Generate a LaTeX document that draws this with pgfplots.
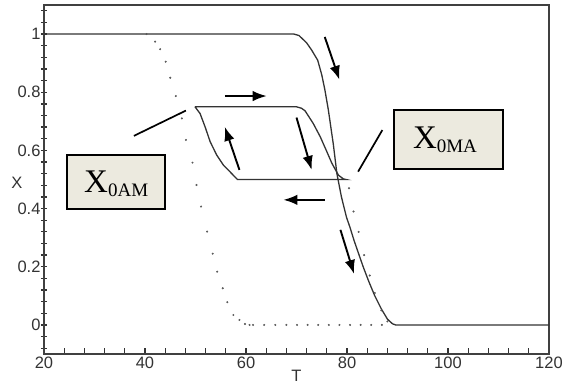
\documentclass[border=0pt]{standalone}
\usepackage{fontspec}
\setmainfont{Liberation Sans}
\newfontfamily\seriffont{Liberation Serif}
\usepackage{pgfplots}
\pgfplotsset{compat=1.18}
\usetikzlibrary{arrows.meta}
\definecolor{boxfill}{RGB}{236,234,223}
\begin{document}
\begin{tikzpicture}
\useasboundingbox (-44pt,-31pt) rectangle (525pt,354pt);
\begin{axis}[
  at={(0,0)}, anchor=south west,
  scale only axis, width=505pt, height=349pt,
  xmin=20, xmax=120, ymin=-0.1, ymax=1.1,
  xtick={20,40,60,80,100,120},
  ytick={0,0.2,0.4,0.6,0.8,1},
  minor xtick={24,28,32,36,44,48,52,56,64,68,72,76,84,88,92,96,104,108,112,116},
  minor ytick={-0.08,-0.04,0.04,0.08,0.12,0.16,0.24,0.28,0.32,0.36,0.44,0.48,0.52,0.56,0.64,0.68,0.72,0.76,0.84,0.88,0.92,0.96,1.04,1.08},
  tick pos=left,
  tick align=inside,
  major tick length=6pt, minor tick length=6pt,
  ytick style={xshift=-3pt, line width=1.3pt, black!80},
  xtick style={line width=1.2pt, black!80},
  axis line style={line width=1.7pt, black!75},
  /pgf/number format/assume math mode=true,
  tick label style={font=\fontsize{16.5}{18}\selectfont, text=black!80},
  xticklabel style={yshift=1pt},
  every axis y label/.style={at={(axis description cs:0,0.49)}, anchor=center, xshift=-27pt, font=\fontsize{16.5}{18}\selectfont, text=black!80},
  every axis x label/.style={at={(axis description cs:0.5,0)}, anchor=center, yshift=-21.5pt, font=\fontsize{16.5}{18}\selectfont, text=black!80},
  xlabel={T}, ylabel={X},
  clip=false,
]
% dotted X_0AM curve
\addplot[only marks, mark=*, mark size=0.8pt, black!65] coordinates {
(40.3,1.0)(42.0,0.974)(43.0,0.948)(44.1,0.905)(45.0,0.85)(46.1,0.787)(47.3,0.71)(48.1,0.636)
(49.4,0.558)(50.2,0.481)(51.1,0.407)(52.3,0.321)(53.4,0.245)(54.3,0.183)(55.4,0.126)
(56.3,0.078)(57.5,0.034)(58.7,0.017)(59.8,0.003)(60.7,0)(61.4,0)(63.6,0)(65.8,0)(68,0)(70.1,0)
(72.2,0)(74.3,0)(76.4,0)(78.5,0)(80.6,0)(82.7,0)(84.8,0)(86.9,0)
};
% dotted right curve
\addplot[only marks, mark=*, mark size=0.8pt, black!65] coordinates {
(80.4,0.47)(81.3,0.39)(82.3,0.32)(83.4,0.24)(84.5,0.17)(85.5,0.11)(86.8,0.05)(88.0,0.012)
};
% main solid curve X_0MA
\addplot[line width=1.3pt, black!80] coordinates {
(20,1)(69.5,1)(70.5,0.995)(72,0.97)(73,0.945)(74.2,0.91)(75,0.86)(75.6,0.81)(76.3,0.74)
(77.3,0.62)(78,0.52)(78.9,0.44)(79.9,0.37)(80.6,0.335)(81.4,0.29)(82.3,0.245)(83.2,0.2)
(84.3,0.15)(85.5,0.1)(86.8,0.055)(88,0.02)(89,0.004)(89.6,0)(120,0)
};
% inner loop
\addplot[line width=1.3pt, black!80] coordinates {
(49.9,0.75)(70,0.75)(71,0.745)(71.7,0.736)(73.3,0.693)(74.7,0.647)(76,0.596)(77,0.556)
(78.3,0.515)(79.3,0.502)(79.8,0.5)(58.3,0.5)(56.8,0.527)(55.5,0.55)(54.2,0.584)(52.9,0.63)
(51.9,0.681)(50.9,0.727)(49.9,0.75)
};
% arrows
\begin{scope}[line width=1.9pt, black, -{Latex[length=14pt,width=10.5pt]}]
\draw (axis cs:75.6,0.99) -- (axis cs:78.5,0.843);
\draw (axis cs:55.8,0.787) -- (axis cs:64.1,0.787);
\draw (axis cs:58.7,0.533) -- (axis cs:55.8,0.681);
\draw (axis cs:70,0.713) -- (axis cs:73,0.533);
\draw (axis cs:75.6,0.43) -- (axis cs:67.4,0.43);
\draw (axis cs:78.7,0.327) -- (axis cs:81.4,0.175);
\end{scope}
% pointer lines
\draw[line width=1.7pt, black] (axis cs:37.8,0.65) -- (axis cs:48.1,0.737);
\draw[line width=1.7pt, black] (axis cs:82.2,0.527) -- (axis cs:87.0,0.67);
% boxes
\draw[line width=1.8pt, fill=boxfill] (axis cs:24.5,0.584) rectangle (axis cs:44,0.398);
\node at (axis cs:34.3,0.484) {\seriffont\fontsize{33}{35}\selectfont X\raisebox{-4pt}{\fontsize{19}{21}\selectfont 0AM}};
\draw[line width=1.8pt, fill=boxfill] (axis cs:89.3,0.739) rectangle (axis cs:110.9,0.536);
\node at (axis cs:99.4,0.635) {\seriffont\fontsize{33}{35}\selectfont X\raisebox{-4pt}{\fontsize{19}{21}\selectfont 0MA}};
\end{axis}
\end{tikzpicture}
\end{document}
